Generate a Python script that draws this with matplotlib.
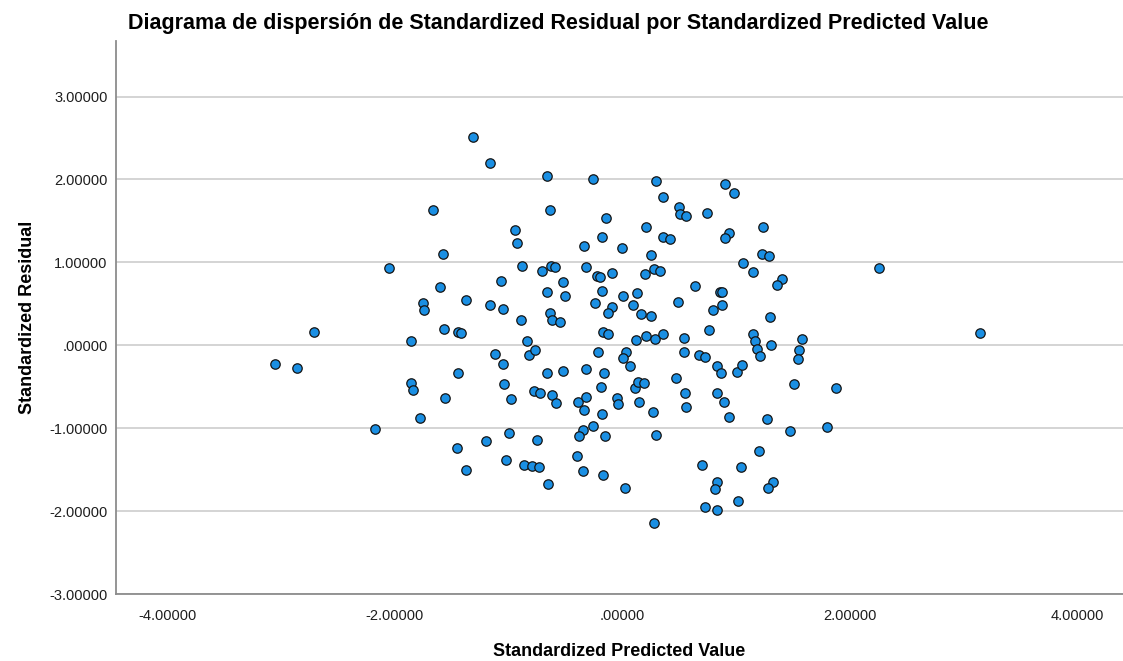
import matplotlib
matplotlib.use("Agg")
import matplotlib.pyplot as plt
from matplotlib.ticker import FixedLocator, FuncFormatter

plt.rcParams["font.family"] = ["Liberation Sans", "DejaVu Sans"]

# standardized predicted value / standardized residual per case
pred = [
    -1.31, -1.16, -1.66, -1.58, -2.05, -1.07, -1.60, -1.37, -1.75, -1.74,
    -1.16, -1.05, -2.71, -1.57, -1.44, -1.42, -1.86,
    -0.66, -0.26, 0.30, 0.90, 0.98, 0.36, -0.64, 0.50, 0.51, 0.56,
    0.74, -0.14, -0.94, 0.21, -0.93, -0.18, 0.36, 0.42, 0.94, 0.90,
    -0.34, 0.00, 0.25, -0.88, -0.63, -0.59, -0.71, -0.32, 0.28, 0.33,
    0.20, -0.09, -0.22, -0.20, 1.06, 1.15, -0.52, 0.64, -0.66, -0.18,
    0.13, -0.50, 0.01, 0.86, 0.88, 0.49, -0.24, 0.09, -0.64, -0.62,
    -0.55, -0.09, -0.13, 0.16, 0.25, 0.88, 0.80, -0.89, -0.17, -0.13,
    0.12, 0.21, 0.29, 0.36, 0.54, 0.76, 1.15, 1.17, -0.84,
    1.24, 1.23, 1.29, 2.26, 1.40, 1.36, 1.30, 1.31, 1.58, 3.14,
    1.18, 1.21, 1.55, 1.54, 1.51, 1.88, 1.27, 1.47, 1.80, 1.20,
    1.32, 1.28,
    -3.05, -2.86, -1.12, -1.05, -1.44, -1.86, -1.84, -1.04, -0.98, -1.56,
    -1.78, -2.17, -1.20, -1.45, -1.37, -1.00, -1.02,
    -0.82, -0.77, -0.21, 0.03, 0.01, 0.07, 0.54, 0.67, 0.73, 0.83,
    0.87, 1.01, 1.05, -0.66, -0.52, -0.32, -0.16, -0.78, -0.72, -0.62,
    -0.58, -0.39, -0.32, -0.34, -0.19, -0.05, -0.04, 0.11, 0.14, 0.19,
    0.15, 0.27, 0.47, 0.55, 0.56, 0.83, 0.89, 0.94, -0.18, -0.75,
    -0.35, -0.38, -0.26, -0.15, 0.30, -0.86, -0.79, -0.73, -0.40, -0.35,
    -0.17, -0.65, 0.02, 0.70, 1.04, 0.83, 0.81, 1.02, 0.73, 0.83,
    0.28,
]
resid = [
    2.51, 2.20, 1.63, 1.10, 0.93, 0.78, 0.70, 0.55, 0.51, 0.42,
    0.48, 0.44, 0.16, 0.20, 0.16, 0.15, 0.05,
    2.04, 2.00, 1.98, 1.95, 1.84, 1.79, 1.63, 1.67, 1.58, 1.56,
    1.59, 1.54, 1.39, 1.43, 1.23, 1.31, 1.30, 1.28, 1.36, 1.29,
    1.20, 1.17, 1.09, 0.96, 0.96, 0.95, 0.90, 0.95, 0.92, 0.90,
    0.86, 0.87, 0.83, 0.82, 0.99, 0.88, 0.76, 0.72, 0.64, 0.65,
    0.63, 0.60, 0.59, 0.64, 0.64, 0.52, 0.51, 0.49, 0.39, 0.30,
    0.28, 0.46, 0.39, 0.38, 0.35, 0.48, 0.42, 0.31, 0.16, 0.14,
    0.06, 0.11, 0.08, 0.14, 0.09, 0.18, 0.14, 0.05, 0.05,
    1.43, 1.10, 1.08, 0.93, 0.80, 0.73, 0.34, 0.00, 0.07, 0.15,
    -0.04, -0.13, -0.06, -0.16, -0.47, -0.51, -0.89, -1.04, -0.98, -1.28,
    -1.65, -1.72,
    -0.22, -0.28, -0.11, -0.22, -0.34, -0.45, -0.54, -0.47, -0.65, -0.63,
    -0.88, -1.01, -1.16, -1.24, -1.51, -1.06, -1.38,
    -0.12, -0.06, -0.08, -0.08, -0.15, -0.25, -0.08, -0.12, -0.14, -0.25,
    -0.34, -0.32, -0.24, -0.34, -0.31, -0.29, -0.34, -0.55, -0.57, -0.60,
    -0.70, -0.68, -0.62, -0.78, -0.50, -0.63, -0.71, -0.52, -0.44, -0.46,
    -0.69, -0.81, -0.39, -0.57, -0.75, -0.58, -0.68, -0.87, -0.83, -1.14,
    -1.02, -1.10, -0.97, -1.09, -1.08, -1.44, -1.46, -1.47, -1.33, -1.52,
    -1.57, -1.67, -1.72, -1.45, -1.47, -1.65, -1.73, -1.88, -1.95, -1.99,
    -2.14,
]

x_ticks = [-4, -2, 0, 2, 4]
y_ticks = [-3, -2, -1, 0, 1, 2, 3]
title = "Diagrama de dispersión de Standardized Residual por Standardized Predicted Value"


def spss_fmt(v, _pos=None):
    s = f"{abs(v):.5f}"
    if s.startswith("0"):
        s = s[1:]
    return ("-" if v < 0 else "") + s


fig = plt.figure(figsize=(11.23, 6.61), dpi=100)
ax = fig.add_axes([116 / 1123, 67 / 661, 1 - 116 / 1123, 553 / 661])

ax.scatter(pred, resid, s=46, c="#1a8fe3", edgecolors="#141414",
           linewidths=0.9, zorder=3)

ax.set_xlim(-4.45, 4.40)
ax.set_ylim(-3.0, 3.67)
ax.xaxis.set_major_locator(FixedLocator(x_ticks))
ax.yaxis.set_major_locator(FixedLocator(y_ticks))
ax.xaxis.set_major_formatter(FuncFormatter(spss_fmt))
ax.yaxis.set_major_formatter(FuncFormatter(spss_fmt))
ax.tick_params(axis="both", length=0, labelsize=10.5, colors="#1e1e1e")
ax.tick_params(axis="x", pad=11)
ax.tick_params(axis="y", pad=6)

ax.grid(axis="y", color="#cdcdcd", linewidth=1.2, zorder=0)
for side in ("top", "right"):
    ax.spines[side].set_visible(False)
for side in ("left", "bottom"):
    ax.spines[side].set_color("#8c8c8c")
    ax.spines[side].set_linewidth(1.3)

ax.set_xlabel("Standardized Predicted Value", fontsize=13, fontweight="bold",
              labelpad=14)
ax.set_ylabel("Standardized Residual", fontsize=13, fontweight="bold",
              labelpad=10)
fig.text(0.497, 0.964, title, ha="center", va="center", fontsize=15.5,
         fontweight="bold")

fig.savefig("out.png", dpi=100, facecolor="white")
